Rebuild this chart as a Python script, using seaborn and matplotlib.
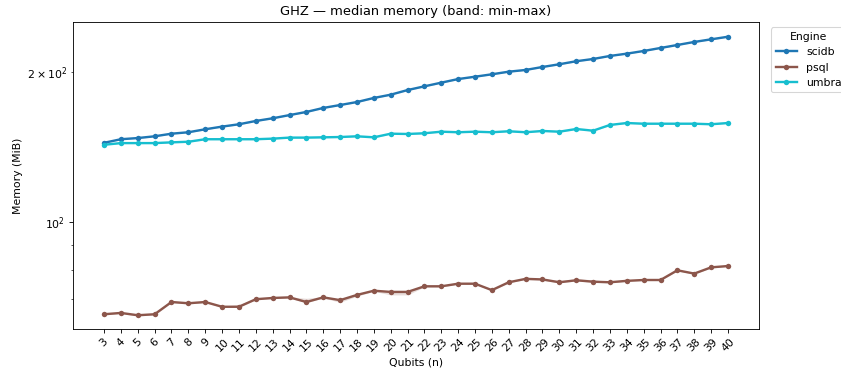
import numpy as np
import pandas as pd
import matplotlib
matplotlib.use("Agg")
import matplotlib.pyplot as plt
import seaborn as sns

qubits = list(range(3, 41))
scidb = [144.2, 146.6, 147.4, 148.6, 150.4, 151.4, 153.5, 155.4, 157.1, 159.5, 161.5, 163.9,
         166.3, 169.4, 171.7, 174.1, 177.4, 180.1, 184.0, 187.2, 190.4, 193.6, 195.7, 197.9,
         200.3, 201.9, 204.7, 207.3, 210.2, 212.4, 215.4, 217.7, 220.4, 223.5, 226.6, 229.8,
         232.6, 235.4]
psql = [65.3, 65.7, 65.0, 65.3, 69.1, 68.7, 69.1, 67.6, 67.6, 70.0, 70.4, 70.6,
        69.1, 70.6, 69.7, 71.4, 72.8, 72.4, 72.4, 74.3, 74.3, 75.2, 75.2, 73.0,
        75.7, 76.9, 76.7, 75.7, 76.4, 75.9, 75.7, 76.2, 76.5, 76.5, 80.0, 78.8,
        81.1, 81.6]
psql_lo = [65.1, 65.5, 64.8, 65.1, 68.9, 68.5, 68.9, 67.4, 67.4, 69.8, 70.2, 70.4,
           68.9, 70.4, 69.0, 71.0, 72.6, 71.4, 71.4, 74.1, 74.1, 75.0, 75.0, 72.8,
           75.5, 76.7, 76.4, 75.5, 76.2, 75.7, 75.5, 76.0, 76.3, 76.3, 79.8, 78.6,
           80.9, 81.4]
psql_hi = [65.5, 65.9, 65.2, 65.5, 69.3, 68.9, 69.3, 67.8, 68.3, 70.2, 70.6, 70.8,
           70.3, 70.8, 69.9, 71.6, 73.0, 72.6, 72.6, 74.5, 74.5, 75.4, 75.4, 73.2,
           75.9, 77.1, 76.9, 76.3, 76.9, 76.6, 75.9, 76.4, 76.7, 76.7, 80.2, 79.0,
           81.3, 81.8]
umbra = [142.9, 144.0, 144.0, 144.0, 144.5, 144.9, 146.6, 146.6, 146.6, 146.6, 147.0, 147.7,
         147.7, 147.9, 148.1, 148.6, 147.9, 150.4, 150.2, 150.7, 151.8, 151.4, 151.8, 151.4,
         152.1, 151.4, 152.3, 151.8, 153.7, 152.5, 156.6, 158.0, 157.5, 157.5, 157.5, 157.5,
         157.1, 158.0]
engines = ["scidb", "psql", "umbra"]
colors = {"scidb": "#1f77b4", "psql": "#8c564b", "umbra": "#17becf"}

df = pd.DataFrame({
    "Qubits": qubits * 3,
    "Memory": scidb + psql + umbra,
    "Engine": ["scidb"] * len(qubits) + ["psql"] * len(qubits) + ["umbra"] * len(qubits),
})

DPI = 78
fig = plt.figure(figsize=(841 / DPI, 372 / DPI), dpi=DPI)
ax = fig.add_axes([0.0868, 0.1156, 0.8157, 0.8253])

bands = {
    "scidb": (np.array(scidb) * 0.998, np.array(scidb) * 1.002),
    "psql": (np.array(psql_lo), np.array(psql_hi)),
    "umbra": (np.array(umbra) * 0.998, np.array(umbra) * 1.002),
}
for e in engines:
    lo, hi = bands[e]
    ax.fill_between(qubits, lo, hi, color=colors[e], alpha=0.2, linewidth=0)

sns.lineplot(data=df, x="Qubits", y="Memory", hue="Engine", hue_order=engines,
             palette=colors, marker="o", markersize=5, markeredgewidth=0,
             linewidth=2.2, ax=ax, errorbar=None)

ax.set_yscale("log")
ax.set_ylim(61.0, 252)
ax.set_xlim(3 - 1.84, 40 + 1.84)
ax.set_xticks(qubits)
ax.set_xticklabels([str(q) for q in qubits], rotation=45)
ax.set_xlabel("Qubits (n)")
ax.set_ylabel("Memory (MiB)")
ax.set_title("GHZ — median memory (band: min-max)")
ax.legend(title="Engine", loc="upper left", bbox_to_anchor=(1.01, 1.0))

fig.savefig("out.png", dpi=DPI)
